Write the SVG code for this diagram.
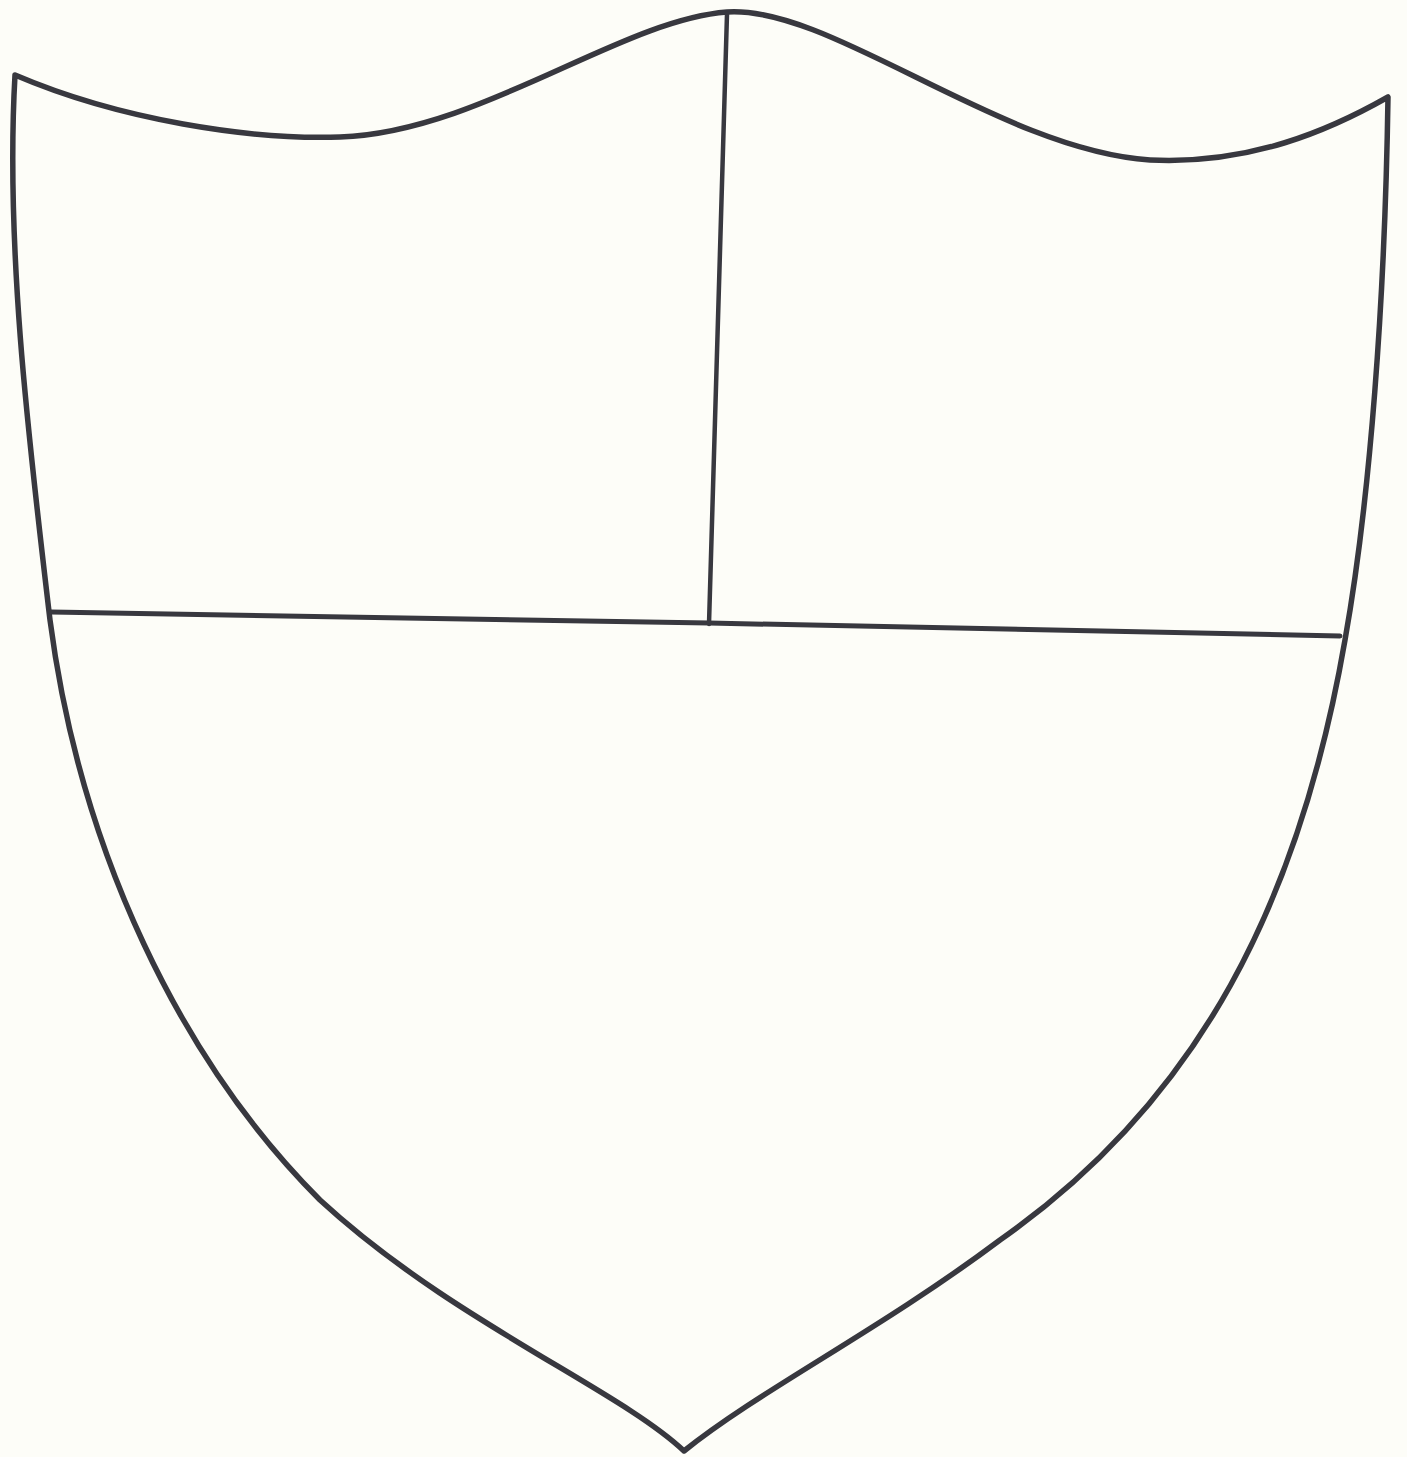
<svg xmlns="http://www.w3.org/2000/svg" width="1407" height="1457" viewBox="0 0 1407 1457">
<style>
.ink{fill:none;stroke:#38383f;stroke-linecap:round;stroke-linejoin:round}
</style>
<rect width="1407" height="1457" fill="#fdfdf8"/>
<g id="shield">
<path class="ink" stroke-width="5.5" d="M15,75 C120,120 250,140 340,137 C480,132 620,20 727,12 C830,5 1000,150 1150,160 C1250,165 1330,130 1388,97 C1385,300 1370,500 1345,640 C1300,900 1200,1100 1000,1240 C880,1330 760,1390 684,1451 C620,1390 450,1320 320,1200 C180,1060 80,850 50,620 C30,450 5,250 15,75 Z"/>
</g>
<g id="dividers">
<path class="ink" stroke-width="5" d="M51,612 L709,623 L1340,636"/>
<path class="ink" stroke-width="4.5" d="M727,14 L709,624"/>
</g>
</svg>
